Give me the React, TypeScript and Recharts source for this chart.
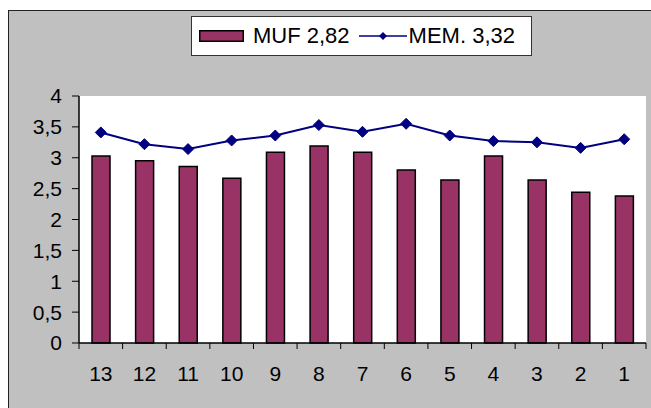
import {
  Bar,
  CartesianGrid,
  ComposedChart,
  Line,
  XAxis,
  YAxis,
} from "recharts";

const categories = ["13", "12", "11", "10", "9", "8", "7", "6", "5", "4", "3", "2", "1"];
const mufValues = [3.03, 2.95, 2.86, 2.67, 3.09, 3.19, 3.09, 2.8, 2.64, 3.03, 2.64, 2.44, 2.38];
const memValues = [3.41, 3.22, 3.14, 3.28, 3.36, 3.53, 3.42, 3.55, 3.36, 3.27, 3.25, 3.16, 3.3];
const yTicks = [0, 0.5, 1, 1.5, 2, 2.5, 3, 3.5, 4];
const mufLabel = "MUF 2,82";
const memLabel = "MEM. 3,32";

const FONT = "'Liberation Sans', Arial, sans-serif";
const BAR_FILL = "#993366";
const LINE_COLOR = "#000080";

const CHART_W = 642;
const CHART_H = 397;
const MARGIN = { top: 85, right: 5, bottom: 25, left: 0 };
const Y_AXIS_W = 70;
const PLOT_W = CHART_W - MARGIN.left - MARGIN.right - Y_AXIS_W;
const HALF_BAND = PLOT_W / categories.length / 2;

const data = categories.map((cat, i) => ({
  cat,
  muf: mufValues[i],
  mem: memValues[i],
}));

function Diamond(props: any) {
  const { cx, cy } = props;
  if (cx == null || cy == null) return null;
  const r = 5.5;
  return (
    <polygon
      points={`${cx},${cy - r} ${cx + r},${cy} ${cx},${cy + r} ${cx - r},${cy}`}
      fill={LINE_COLOR}
      stroke={LINE_COLOR}
    />
  );
}

// Excel-style: tick marks sit between categories, labels in the middle
function XTick(props: any) {
  const { x, y, payload, index } = props;
  const last = index === categories.length - 1;
  return (
    <g>
      <line x1={x - HALF_BAND} x2={x - HALF_BAND} y1={y} y2={y + 6} stroke="#000" />
      {last && <line x1={x + HALF_BAND} x2={x + HALF_BAND} y1={y} y2={y + 6} stroke="#000" />}
      <text x={x} y={y + 38} textAnchor="middle" fill="#000" fontSize={21} fontFamily={FONT}>
        {payload.value}
      </text>
    </g>
  );
}

function LegendBox() {
  return (
    <div
      style={{
        position: "absolute",
        left: 182,
        top: 5,
        width: 332,
        height: 38,
        background: "#fff",
        border: "1px solid #333",
        display: "flex",
        alignItems: "center",
        paddingLeft: 7,
        fontFamily: FONT,
        fontSize: 22,
        color: "#000",
        whiteSpace: "nowrap",
      }}
    >
      <svg width={45} height={12} style={{ display: "block" }}>
        <rect x={0.75} y={0.75} width={43.5} height={10.5} fill={BAR_FILL} stroke="#000" strokeWidth={1.5} />
      </svg>
      <span style={{ marginLeft: 9 }}>{mufLabel}</span>
      <svg width={48} height={12} style={{ display: "block", marginLeft: 9 }}>
        <line x1={0} x2={48} y1={6} y2={6} stroke={LINE_COLOR} strokeWidth={1.5} />
        <polygon points="24,2 28,6 24,10 20,6" fill={LINE_COLOR} />
      </svg>
      <span style={{ marginLeft: 2 }}>{memLabel}</span>
    </div>
  );
}

export default function App() {
  return (
    <div
      style={{
        position: "absolute",
        left: 8,
        top: 10,
        width: 642,
        height: 397,
        background: "#c0c0c0",
        borderTop: "1px solid #222",
        borderLeft: "1px solid #222",
      }}
    >
      <ComposedChart width={CHART_W} height={CHART_H} data={data} margin={MARGIN}>
        <CartesianGrid horizontal={false} vertical={false} fill="#fff" />
        <XAxis
          dataKey="cat"
          height={40}
          axisLine={{ stroke: "#000", strokeWidth: 1.5 }}
          tickLine={false}
          tickSize={0}
          tickMargin={0}
          interval={0}
          tick={<XTick />}
        />
        <XAxis
          xAxisId="top"
          dataKey="cat"
          orientation="top"
          height={0}
          tick={false}
          tickLine={false}
          axisLine={{ stroke: "#808080" }}
        />
        <YAxis
          type="number"
          domain={[0, 4]}
          ticks={yTicks}
          width={Y_AXIS_W}
          axisLine={{ stroke: "#000", strokeWidth: 1.5 }}
          tickLine={{ stroke: "#000" }}
          tickSize={7}
          tickMargin={10}
          tick={{ fill: "#000", fontSize: 21, fontFamily: FONT }}
          tickFormatter={(v: number) => String(v).replace(".", ",")}
        />
        <YAxis
          yAxisId="right"
          orientation="right"
          domain={[0, 4]}
          width={0}
          tick={false}
          tickLine={false}
          axisLine={{ stroke: "#808080" }}
        />
        <Bar
          dataKey="muf"
          name={mufLabel}
          fill={BAR_FILL}
          stroke="#000"
          strokeWidth={1.5}
          barSize={18}
          isAnimationActive={false}
        />
        <Line
          dataKey="mem"
          name={memLabel}
          type="linear"
          stroke={LINE_COLOR}
          strokeWidth={2}
          dot={<Diamond />}
          activeDot={false}
          isAnimationActive={false}
        />
      </ComposedChart>
      <LegendBox />
    </div>
  );
}
